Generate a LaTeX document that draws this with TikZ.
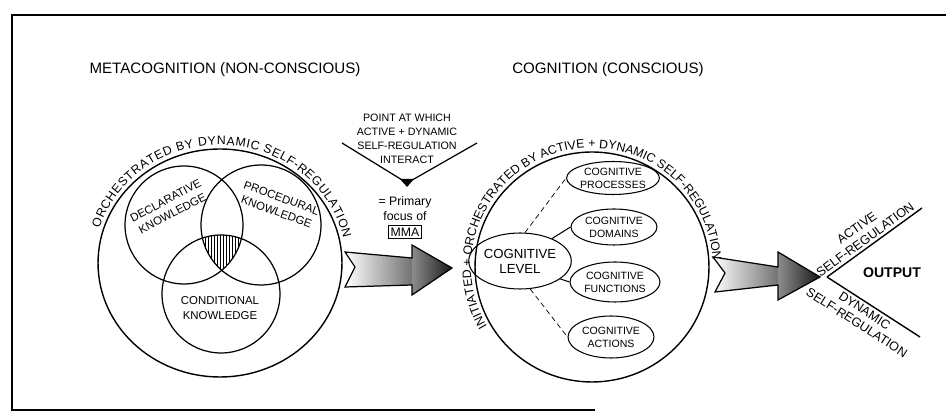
\documentclass[tikz,border=0pt]{standalone}
\usepackage{fontspec}
\setmainfont{Liberation Sans}
\usetikzlibrary{shapes.geometric,decorations.text}

\begin{document}
\begin{tikzpicture}[x=0.02cm,y=0.02cm,
	ring/.style={line width=0.8pt},
	venn/.style={line width=0.7pt},
	heading/.style={font=\fontsize{8.6}{10}\selectfont},
	knowl/.style={font=\fontsize{6.5}{8.3}\selectfont, align=center},
	cogbig/.style={ellipse, draw, line width=0.6pt, inner sep=0pt, align=center, font=\fontsize{7.5}{8.6}\selectfont},
	cogsmall/.style={ellipse, draw, line width=0.6pt, inner sep=0pt, align=center, font=\fontsize{6}{7.4}\selectfont},
	link/.style={line width=0.6pt},
	thinlink/.style={line width=0.4pt, densely dashed},
	regtext/.style={font=\fontsize{7.2}{8.2}\selectfont, align=center, inner sep=1.5pt}]
	\useasboundingbox (0,0) rectangle (946,415);
	\draw[line width=1.1pt] (946,400) -- (12,400) -- (12,5) -- (595,5);
	\node[heading] (meta) at (225,345) {METACOGNITION (NON-CONSCIOUS)};
	\node[heading] (cog) at (608,345) {COGNITION (CONSCIOUS)};
	\coordinate (mc) at (220,152);
	\coordinate (dk) at (184,190);
	\coordinate (pk) at (261,190);
	\coordinate (ck) at (221,121);
	\begin{scope}
		\clip (dk) circle[radius=1.18cm];
		\clip (pk) circle[radius=1.2cm];
		\clip (ck) circle[radius=1.18cm];
		\foreach \x in {196,199,...,250}
			\draw[line width=0.4pt] (\x,130) -- (\x,190);
	\end{scope}
	\draw[venn] (dk) circle[radius=1.18cm];
	\draw[venn] (pk) circle[radius=1.2cm];
	\draw[venn] (ck) circle[radius=1.18cm];
	\draw[ring] (mc) ellipse[x radius=2.44cm, y radius=2.28cm];
	\path[decorate, decoration={text along path, text align={fit to path},
		text={|\fontsize{7}{8}\selectfont|ORCHESTRATED BY DYNAMIC SELF-REGULATION}}]
		([shift={(mc)}]163:2.52cm and 2.36cm) arc[start angle=163, end angle=12, x radius=2.52cm, y radius=2.36cm];
	\node[knowl, rotate=28] (decl) at (169,208) {DECLARATIVE\\KNOWLEDGE};
	\node[knowl, rotate=-20] (proced) at (279,210) {PROCEDURAL\\KNOWLEDGE};
	\node[knowl] (condit) at (220,107) {CONDITIONAL\\KNOWLEDGE};
	\node[font=\fontsize{6.1}{7.9}\selectfont, align=center] (point) at (407,276) {POINT AT WHICH\\ACTIVE + DYNAMIC\\SELF-REGULATION\\INTERACT};
	\coordinate (vtip) at (407,232);
	\draw[line width=0.7pt] (342,272) -- (vtip) -- (477,272);
	\fill (vtip) ++(0,-4) -- ++(-7,8) -- ++(14,0) -- cycle;
	\node[font=\fontsize{7}{8.5}\selectfont, align=center] (focus) at (405,206) {= Primary\\focus of};
	\node[draw, line width=0.6pt, inner sep=1.2pt, font=\fontsize{7}{8}\selectfont] (mma) at (405,183) {MMA};
	\shade[left color=white, right color=black!55] (345,163) -- (412,157) -- (412,130) -- (345,128) -- (355,148) -- cycle;
	\shade[left color=black!45, right color=black!90] (412,170) -- (452,147) -- (412,120) -- cycle;
	\draw[line width=0.7pt] (345,163) -- (412,157) -- (412,170) -- (452,147) -- (412,120) -- (412,130) -- (345,128) -- (355,148) -- cycle;
	\coordinate (cc) at (592,148);
	\draw[ring] (cc) ellipse[x radius=2.34cm, y radius=2.3cm];
	\path[decorate, decoration={text along path, text align={fit to path},
		text={|\fontsize{7}{8}\selectfont|INITIATED + ORCHESTRATED BY ACTIVE + DYNAMIC SELF-REGULATION}}]
		([shift={(cc)}]210:2.42cm and 2.38cm) arc[start angle=210, end angle=3, x radius=2.42cm, y radius=2.38cm];
	\node[cogbig, minimum width=1.72cm, minimum height=1.12cm] (level) at (520,154) {COGNITIVE\\LEVEL};
	\node[cogsmall, minimum width=1.72cm, minimum height=0.66cm] (procs) at (613,237) {COGNITIVE\\PROCESSES};
	\node[cogsmall, minimum width=1.72cm, minimum height=0.72cm] (doms) at (614,188) {COGNITIVE\\DOMAINS};
	\node[cogsmall, minimum width=1.8cm, minimum height=0.8cm] (funcs) at (615,133) {COGNITIVE\\FUNCTIONS};
	\node[cogsmall, minimum width=1.72cm, minimum height=0.84cm] (acts) at (611,78) {COGNITIVE\\ACTIONS};
	\draw[thinlink] (level.80) -- (procs.west);
	\draw[link] (level.35) -- (doms.west);
	\draw[link] (level.-24) -- (funcs.west);
	\draw[thinlink] (level.-70) -- (acts.west);
	\shade[left color=white, right color=black!55] (713,158) -- (778,148) -- (778,130) -- (715,123) -- (725,142) -- cycle;
	\shade[left color=black!45, right color=black!90] (778,163) -- (820,138) -- (778,115) -- cycle;
	\draw[line width=0.7pt] (713,158) -- (778,148) -- (778,163) -- (820,138) -- (778,115) -- (778,130) -- (715,123) -- (725,142) -- cycle;
	\coordinate (ov) at (827,138);
	\draw[line width=0.8pt] (ov) -- node[regtext, sloped, above, pos=0.45] (actreg) {ACTIVE\\SELF-REGULATION} (922,207);
	\draw[line width=0.8pt] (ov) -- node[regtext, sloped, below, pos=0.45] (dynreg) {DYNAMIC\\SELF-REGULATION} (920,78);
	\node[font=\bfseries\fontsize{8}{9}\selectfont] (output) at (892,142) {OUTPUT};
\end{tikzpicture}
\end{document}
